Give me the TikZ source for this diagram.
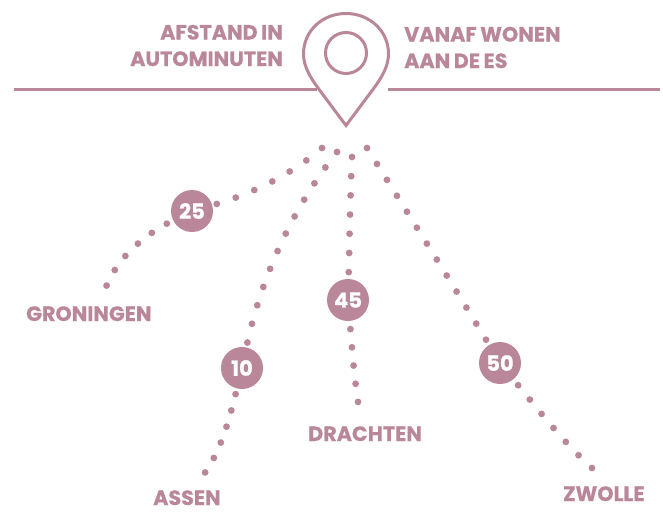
\documentclass[tikz,border=0pt]{standalone}
\usepackage{fontspec}
\setmainfont{Poppins}[BoldFont={Poppins Bold},BoldFeatures={FakeBold=0.5,WordSpace=0.8}]
\definecolor{esrose}{HTML}{B98799}
\tikzset{
    badge/.style={circle,fill=esrose,text=white,minimum size=42pt,inner sep=0pt,font=\fontsize{21}{21}\selectfont\bfseries},
    city/.style={text=esrose,inner sep=0pt,font=\fontsize{20.7}{20.7}\selectfont\bfseries},
    heading/.style={text=esrose,inner sep=0pt,font=\fontsize{20.7}{26.5}\selectfont\bfseries},
    route/.style={draw=esrose,line width=6.8pt,line cap=round,dash pattern=on 0pt off #1pt},
    rule/.style={draw=esrose,line width=3pt}
}
\begin{document}
\begin{tikzpicture}[x=1pt,y=-1pt]
    \useasboundingbox (0,0) rectangle (663,525);

    \node[heading,anchor=east,align=right] (afstand) at (283,45.5) {AFSTAND IN\\AUTOMINUTEN};
    \node[heading,anchor=west,align=left] (vanaf) at (404,47.5) {VANAF WONEN\\AAN DE ES};

    \coordinate (ruleLa) at (14,89);
    \coordinate (ruleLb) at (317,89);
    \coordinate (ruleRa) at (388,89);
    \coordinate (ruleRb) at (660,89);
    \draw[rule] (ruleLa) -- (ruleLb);
    \draw[rule] (ruleRa) -- (ruleRb);

    \coordinate (pintip) at (346,125.5);
    \draw[rule,fill=white,miter limit=10] (pintip) -- (318,88)
        .. controls (310,77) and (303.5,66) .. (303.5,54)
        .. controls (303.5,30.6) and (322.6,13.5) .. (346,13.5)
        .. controls (369.4,13.5) and (388.5,30.6) .. (388.5,54)
        .. controls (388.5,66) and (382,77) .. (374,88) -- cycle;
    \node[draw=esrose,line width=3pt,circle,minimum size=41pt,inner sep=0pt] (pinhole) at (346,53) {};

    \node[badge] (b25) at (192,211) {25};
    \node[badge] (b10) at (242,368) {10};
    \node[badge] (b45) at (348,300) {45};
    \node[badge] (b50) at (500,363) {50};

    \node[city,anchor=base west] (groningen) at (26,321) {GRONINGEN};
    \node[city,anchor=base west] (assen) at (153,505) {ASSEN};
    \node[city,anchor=base west] (drachten) at (308,441) {DRACHTEN};
    \node[city,anchor=base west] (zwolle) at (563,501) {ZWOLLE};

    \coordinate (hubG) at (322,148);
    \coordinate (hubA) at (337,152);
    \coordinate (hubD) at (352,157);
    \coordinate (hubZ) at (367,148);
    \coordinate (endG) at (106,287);
    \coordinate (endA) at (204,474);
    \coordinate (endD) at (358,402);
    \coordinate (endZ) at (592,468);

    \draw[route=20] (hubG) .. controls (292,174) and (252,194) .. (b25);
    \draw[route=17.6,dash phase=10.6pt] (b25) .. controls (144.5,234.6) and (118,257) .. (endG);
    \draw[route=19.3] (hubA) .. controls (292,209) and (261,278) .. (b10);
    \draw[route=16.9,dash phase=11.2pt] (b10) .. controls (230,417) and (221,451) .. (endA);
    \draw[route=19.2] (hubD) .. controls (350,200) and (349.5,245) .. (b45);
    \draw[route=18.3,dash phase=10.3pt] (b45) .. controls (352,348) and (354,375) .. (endD);
    \draw[route=18.8] (hubZ) .. controls (407,212) and (447,275) .. (b50);
    \draw[route=18.5,dash phase=11pt] (b50) .. controls (540,412) and (566,445) .. (endZ);
\end{tikzpicture}
\end{document}
